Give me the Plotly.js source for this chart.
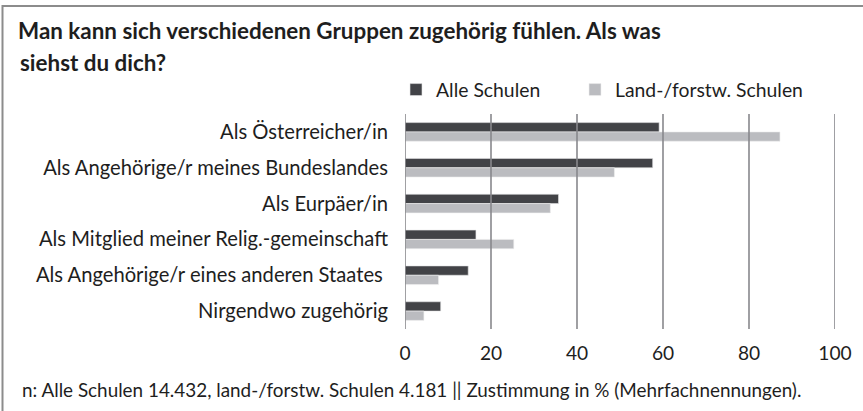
<!DOCTYPE html>
<html>
<head>
<meta charset="utf-8">
<script src="https://cdn.plot.ly/plotly-3.0.1.min.js"></script>
<style>html,body{margin:0;padding:0;background:#fff;}#chart{width:863px;height:411px;}</style>
</head>
<body>
<div id="chart"></div>
<script>
const categories = [
  "Als Österreicher/in",
  "Als Angehörige/r meines Bundeslandes",
  "Als Eurpäer/in",
  "Als Mitglied meiner Relig.-gemeinschaft",
  "Als Angehörige/r eines anderen Staates ",
  "Nirgendwo zugehörig"
];
const seriesNames = ["Alle Schulen", "Land-/forstw. Schulen"];
const alleSchulen = [59.1, 57.6, 35.7, 16.5, 14.7, 8.3];
const landForst = [87.2, 48.7, 33.8, 25.3, 7.8, 4.4];
const xTicks = [0, 20, 40, 60, 80, 100];
const titleLine1 = "Man kann sich verschiedenen Gruppen zugehörig fühlen. Als was";
const titleLine2 = "siehst du dich?";
const footer = "n: Alle Schulen 14.432, land-/forstw. Schulen 4.181 || Zustimmung in % (Mehrfachnennungen).";

const FONT = "Lato, 'Open Sans', sans-serif";
const TXT = "#1e1e1e";

// choose font sizes so text widths match the reference extents
const cv = document.createElement("canvas").getContext("2d");
function fitSize(text, weight, target) {
  cv.font = weight + " 100px Lato";
  return 100 * target / cv.measureText(text).width;
}
const catSize = fitSize(categories[1], "normal", 346);
const footSize = fitSize(footer, "normal", 781);
const titleSize = fitSize(titleLine1, "bold", 645);
const tickSize = catSize * 0.95;
const legSize = fitSize(seriesNames[1], "normal", 188);

// plot box (px)
const L = 405, R = 835, T = 114, B = 329;
const px = v => (v - L) / (R - L);
const py = v => (B - v) / (B - T);

const traces = [
  {type: "bar", orientation: "h", name: seriesNames[0], y: categories, x: alleSchulen,
   legend: "legend",
   marker: {color: "#424347", line: {color: "#e4e4e6", width: 0.6}}, hoverinfo: "x"},
  {type: "bar", orientation: "h", name: seriesNames[1], y: categories, x: landForst,
   legend: "legend2",
   marker: {color: "#bbbcc0", line: {color: "#eeeeee", width: 0.6}}, hoverinfo: "x"}
];

const gridShapes = xTicks.map(t => ({
  type: "line", xref: "x", yref: "paper", x0: t, x1: t, y0: 0, y1: 1,
  layer: "above", line: {color: "#88888c", width: 1.6}
}));

const legendBase = {
  orientation: "h", xanchor: "left", y: py(90), yanchor: "middle",
  font: {family: FONT, size: legSize, color: TXT}, bgcolor: "rgba(0,0,0,0)",
  itemwidth: 30
};

const layout = {
  width: 863, height: 411,
  margin: {l: L, r: 863 - R, t: T, b: 411 - B},
  paper_bgcolor: "#ffffff", plot_bgcolor: "#ffffff",
  font: {family: FONT, size: catSize, color: TXT},
  barmode: "group", bargap: 0.48, bargroupgap: 0,
  showlegend: true,
  title: {text: "<b>" + titleLine1 + "</b>", x: 18/863, xanchor: "left", xref: "container",
          y: 1 - 31/411, yanchor: "middle", yref: "container",
          font: {family: FONT, size: titleSize, color: TXT}},
  legend: Object.assign({}, legendBase, {x: px(396)}),
  legend2: Object.assign({}, legendBase, {x: px(575)}),
  xaxis: {range: [0, 100], tickvals: xTicks, ticktext: xTicks.map(String),
          showgrid: false, zeroline: false, showline: false, ticks: "",
          ticklabelstandoff: 11,
          tickfont: {family: FONT, size: tickSize, color: TXT}, fixedrange: true},
  yaxis: {autorange: "reversed", showgrid: false, zeroline: false, showline: false,
          ticks: "", ticklabelstandoff: 16,
          tickfont: {family: FONT, size: catSize, color: TXT}, fixedrange: true},
  annotations: [
    {text: "<b>" + titleLine2 + "</b>", xref: "paper", yref: "paper",
     x: px(18), y: py(62), xanchor: "left", yanchor: "middle",
     showarrow: false, font: {family: FONT, size: titleSize, color: TXT}},
    {text: footer, xref: "paper", yref: "paper",
     x: px(20), y: py(389), xanchor: "left", yanchor: "middle",
     showarrow: false, font: {family: FONT, size: footSize, color: TXT}}
  ],
  shapes: gridShapes.concat([
    {type: "line", xref: "paper", yref: "paper",
     x0: px(2.5), x1: px(2.5), y0: py(5), y1: py(430),
     line: {color: "#8c8c8c", width: 2}},
    {type: "line", xref: "paper", yref: "paper",
     x0: px(2), x1: px(880), y0: py(6), y1: py(6),
     line: {color: "#8c8c8c", width: 2}}
  ])
};

Plotly.newPlot("chart", traces, layout, {displayModeBar: false, staticPlot: true});
</script>
</body>
</html>
